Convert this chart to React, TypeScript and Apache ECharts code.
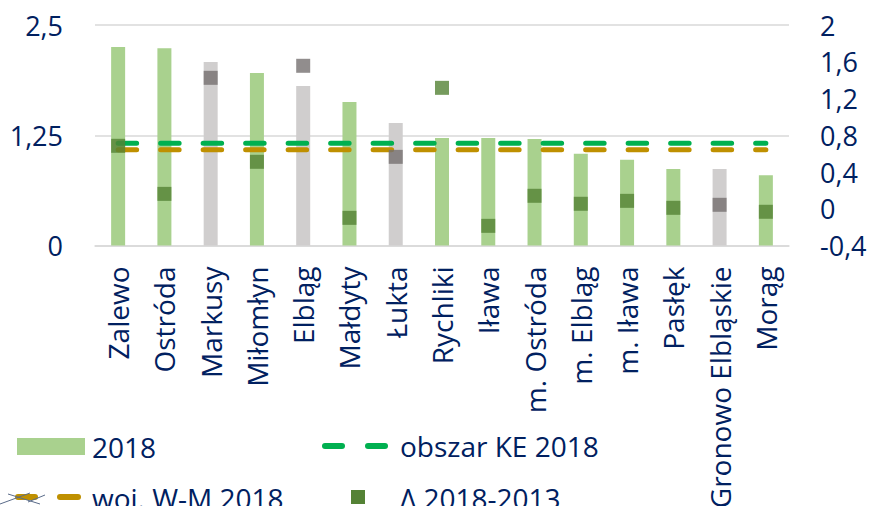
import React, { useEffect, useRef } from "react";
import * as echarts from "echarts";

const categories = [
  "Zalewo", "Ostróda", "Markusy", "Miłomłyn", "Elbląg", "Małdyty", "Łukta", "Rychliki",
  "Iława", "m. Ostróda", "m. Elbląg", "m. Iława", "Pasłęk", "Gronowo Elbląskie", "Morąg",
];
const values2018 = [2.25, 2.236, 2.08, 1.956, 1.808, 1.627, 1.389, 1.219, 1.219, 1.207, 1.041, 0.973, 0.867, 0.867, 0.796];
const delta = [0.685, 0.162, 1.425, 0.511, 1.556, -0.099, 0.565, 1.316, -0.186, 0.141, 0.054, 0.086, 0.01, 0.043, -0.033];
const grayCategories = ["Markusy", "Elbląg", "Łukta", "Gronowo Elbląskie"];
const keValue = 1.159;
const wmValue = 1.086;
const leftTicks = { min: 0, max: 2.5, interval: 1.25 };
const rightTicks = { min: -0.4, max: 2, interval: 0.4 };

const TXT = "#002060";
const FONT = "Open Sans";
const FS = 27;
const FSX = 28;

const fmt = (v: number) => String(+Number(v).toFixed(2)).replace(".", ",");

export default function App() {
  const ref = useRef<HTMLDivElement>(null);
  useEffect(() => {
    if (!ref.current) return;
    const chart = echarts.init(ref.current, undefined, { renderer: "svg" });
    const isGray = (i: number) => grayCategories.includes(categories[i]);
    const lineDash = (color: string) => ({
      color,
      width: 5,
      type: [18.5, 24] as any,
      cap: "round" as any,
    });
    const txt = (text: string, x: number, y: number) => ({
      type: "text",
      x,
      y,
      style: { text, fill: TXT, font: `${FSX}px '${FONT}'`, textVerticalAlign: "middle" },
    });
    const dash = (x1: number, x2: number, y: number, color: string) => ({
      type: "line",
      shape: { x1, y1: y, x2, y2: y },
      style: { stroke: color, lineWidth: 6, lineCap: "round" },
    });
    chart.setOption({
      animation: false,
      grid: {
        left: 95,
        right: 82,
        top: 25,
        bottom: 260.5,
        containLabel: false,
        outerBoundsMode: "none",
      } as any,
      xAxis: {
        type: "category",
        data: categories,
        axisLine: { show: true, lineStyle: { color: "#D9D9D9", width: 1.5 } },
        axisTick: { show: false },
        axisLabel: {
          rotate: 90,
          interval: 0,
          margin: 21,
          color: TXT,
          fontFamily: FONT,
          fontSize: FSX,
        },
      },
      yAxis: [
        {
          type: "value",
          ...leftTicks,
          axisLine: { show: false },
          axisTick: { show: false },
          splitLine: { lineStyle: { color: "#D9D9D9", width: 1.5 } },
          axisLabel: { color: TXT, fontFamily: FONT, fontSize: FS, margin: 32, formatter: fmt },
        },
        {
          type: "value",
          position: "right",
          ...rightTicks,
          axisLine: { show: false },
          axisTick: { show: false },
          splitLine: { show: false },
          axisLabel: { color: TXT, fontFamily: FONT, fontSize: FS, margin: 31, formatter: fmt },
        },
      ],
      series: [
        {
          name: "2018",
          type: "bar",
          yAxisIndex: 0,
          barWidth: 14,
          z: 2,
          data: values2018.map((v, i) => ({
            value: v,
            itemStyle: { color: isGray(i) ? "#D0CECE" : "#A9D18E" },
          })),
        },
        {
          name: "obszar KE 2018",
          type: "line",
          yAxisIndex: 0,
          z: 3,
          symbol: "none",
          lineStyle: lineDash("#00B050"),
          data: categories.map(() => keValue),
        },
        {
          name: "woj. W-M 2018",
          type: "line",
          yAxisIndex: 0,
          z: 3,
          symbol: "none",
          lineStyle: lineDash("#BF9000"),
          data: categories.map(() => wmValue),
        },
        {
          name: "Δ 2018-2013",
          type: "scatter",
          yAxisIndex: 1,
          z: 4,
          symbol: "rect",
          symbolSize: 14,
          data: delta.map((v, i) => ({
            value: v,
            itemStyle: { color: isGray(i) ? "#767171" : "#548235" },
          })),
        },
      ],
      graphic: [
        { type: "rect", shape: { x: 17, y: 438, width: 68, height: 17 }, style: { fill: "#A9D18E" } },
        txt("2018", 92, 447),
        dash(325, 342, 446, "#00B050"),
        dash(368, 385, 446, "#00B050"),
        txt("obszar KE 2018", 400, 446),
        dash(18, 35, 497, "#BF9000"),
        { type: "line", shape: { x1: 0, y1: 504, x2: 30, y2: 493 }, style: { stroke: "#5B6C8A", lineWidth: 1 } },
        { type: "line", shape: { x1: 8, y1: 494, x2: 40, y2: 504 }, style: { stroke: "#5B6C8A", lineWidth: 1 } },
        { type: "line", shape: { x1: 28, y1: 502, x2: 45, y2: 495 }, style: { stroke: "#5B6C8A", lineWidth: 1 } },
        dash(60, 78, 497, "#BF9000"),
        txt("woj. W-M 2018", 92, 498),
        { type: "rect", shape: { x: 351, y: 490, width: 14, height: 14 }, style: { fill: "#548235" } },
        txt("Δ 2018-2013", 400, 498),
      ],
    });
    return () => chart.dispose();
  }, []);
  return (
    <div
      ref={ref}
      style={{ position: "absolute", left: 0, top: 0, width: 871, height: 506, background: "#fff" }}
    />
  );
}
